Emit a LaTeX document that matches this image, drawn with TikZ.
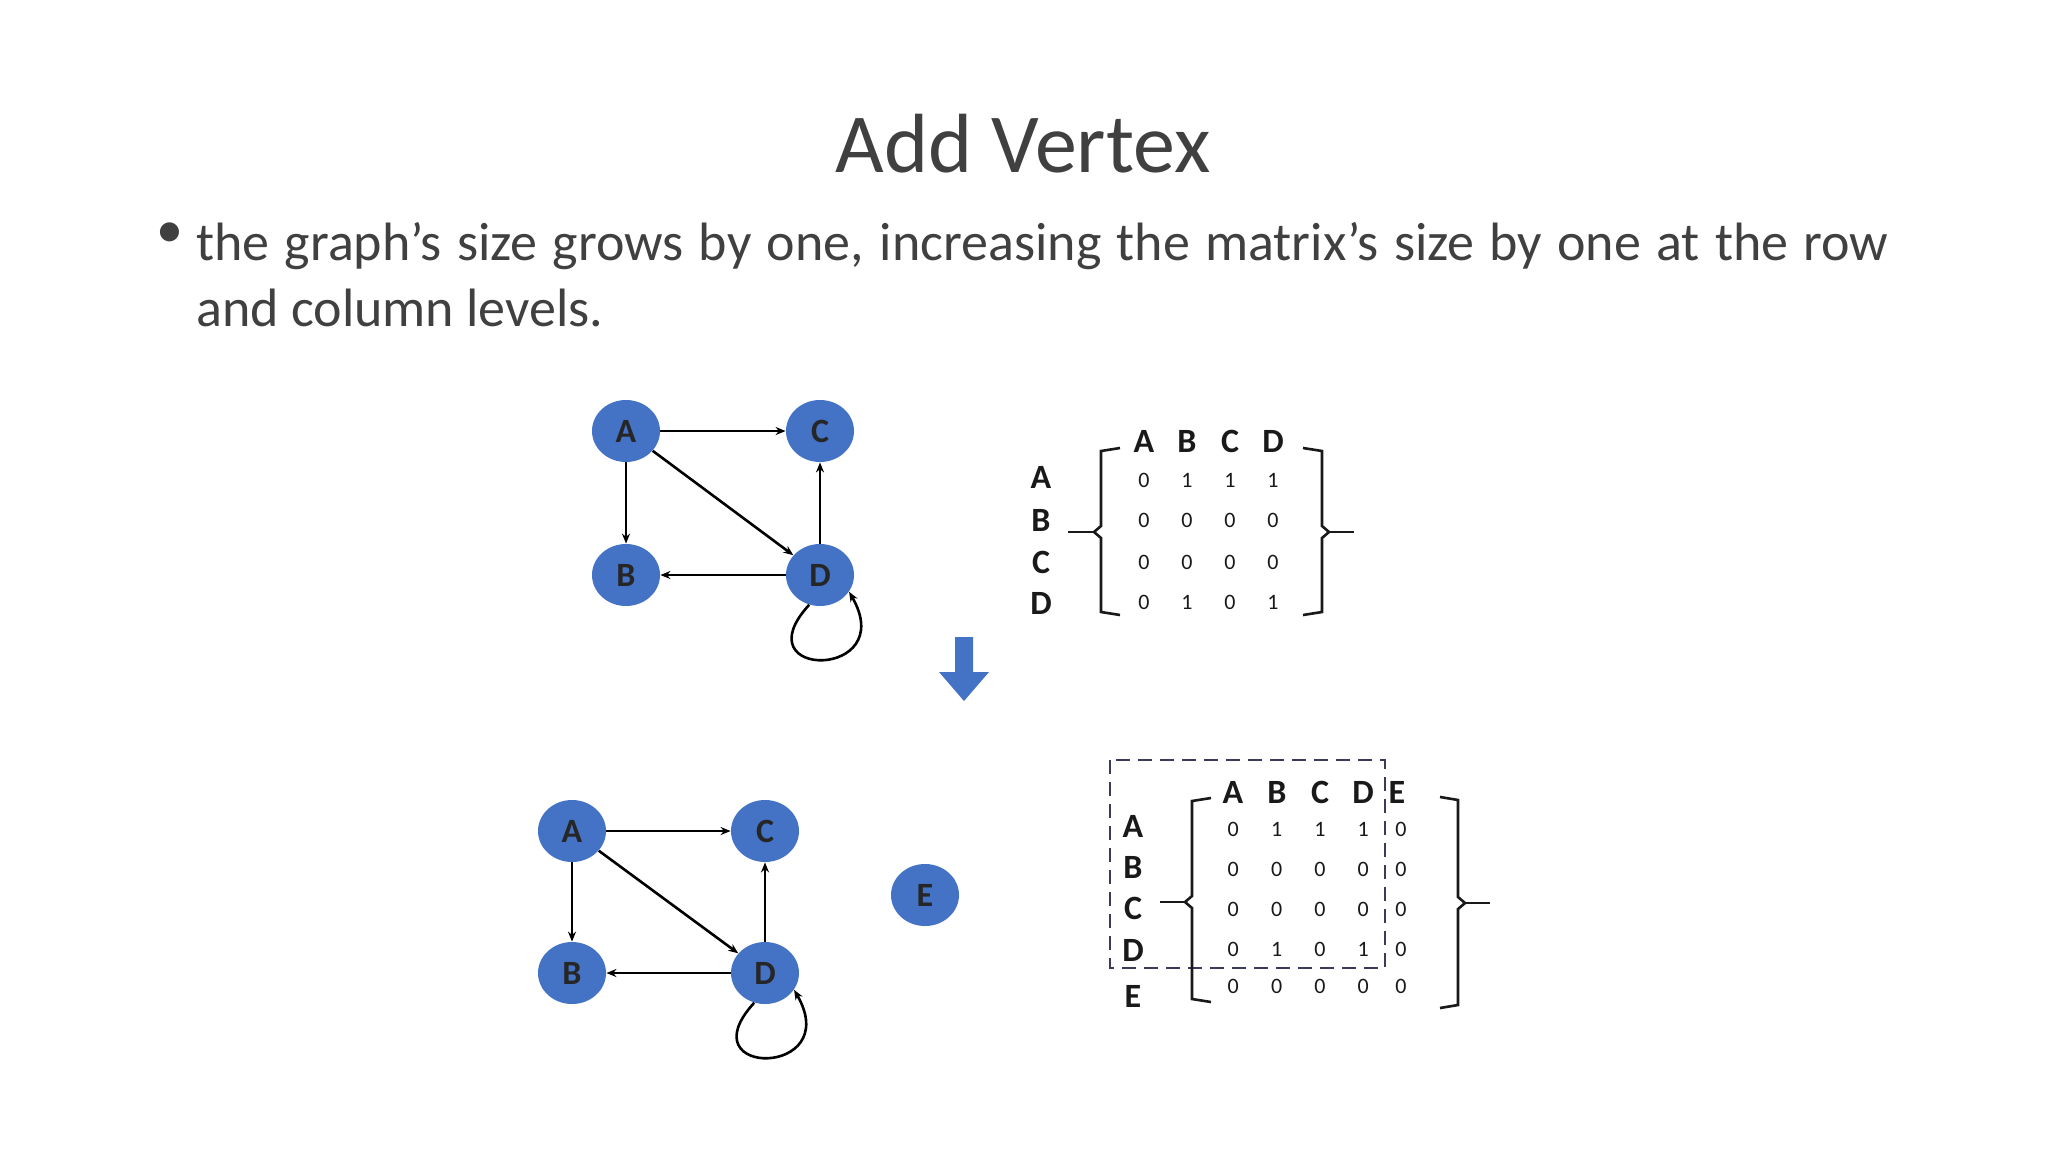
\documentclass[tikz,border=0pt]{standalone}
\usepackage{fontspec}
\setmainfont{Carlito}
\usetikzlibrary{arrows.meta,shapes.geometric}
\definecolor{txt}{HTML}{404040}
\definecolor{vfill}{HTML}{4472C4}
\definecolor{dashcol}{HTML}{3A3A5A}
\tikzset{
  vert/.style={ellipse, fill=vfill, minimum width=34pt, minimum height=31pt, inner sep=0pt, font=\bfseries\fontsize{17}{17}\selectfont, text=black!85},
  edge/.style={-{Stealth[length=5pt,width=4pt]}, line width=1.3pt},
  lab/.style={font=\bfseries\fontsize{17}{17}\selectfont, text=black!90},
  num/.style={font=\fontsize{11}{11}\selectfont, text=black!90},
  brk/.style={line width=1.3pt, black!90}
}
\begin{document}
\begin{tikzpicture}[x=0.5pt,y=-0.5pt]
\useasboundingbox (0,0) rectangle (2048,1152);
\fill[white] (0,0) rectangle (2048,1152);
\node[text=txt, font=\fontsize{42}{42}\selectfont] (title) at (1023,144) {Add Vertex};
\node[text=txt, font=\fontsize{27}{33}\selectfont, anchor=north west, text width=846pt, align=justify, inner sep=0pt] (bul) at (196,222) {the graph's size grows by one, increasing the matrix's size by one at the row and column levels.};
\node[text=txt, font=\fontsize{27}{27}\selectfont, anchor=north west, inner sep=0pt] (dot) at (156,222) {•};

% graph 1
\node[vert] (A1) at (626,431) {A};
\node[vert] (C1) at (820,431) {C};
\node[vert] (B1) at (626,575) {B};
\node[vert] (D1) at (820,575) {D};
\draw[edge] (A1) -- (C1);
\draw[edge] (A1) -- (B1);
\draw[edge] (A1) -- (D1);
\draw[edge] (D1) -- (C1);
\draw[edge] (D1) -- (B1);
\draw[edge] (D1.250) .. controls (740,680) and (900,680) .. (D1.-30);

% arrow
\fill[vfill] (955,637) -- (973,637) -- (973,672) -- (989,672) -- (964,701) -- (939,672) -- (955,672) -- cycle;

% matrix 1
\foreach \l/\y in {A/477,B/520,C/562,D/603} \node[lab] (r1\l) at (1041,\y) {\l};
\foreach \l/\x in {A/1144,B/1187,C/1230,D/1273} \node[lab] (c1\l) at (\x,441) {\l};
\foreach \r/\y/\vals in {a/480/{0,1,1,1},b/520/{0,0,0,0},c/562/{0,0,0,0},d/602/{0,1,0,1}}{
  \foreach \v [count=\i] in \vals { \node[num] (m1\r\i) at (1101+43*\i,\y) {\v}; }
}
\draw[brk] (1120,448) -- (1101,451) -- (1101,526) -- (1094,532) -- (1101,538) -- (1101,612) -- (1120,615);
\draw[brk] (1068,532) -- (1094,532);
\draw[brk] (1303,448) -- (1322,451) -- (1322,526) -- (1329,532) -- (1322,538) -- (1322,612) -- (1303,615);
\draw[brk] (1329,532) -- (1354,532);

% graph 2
\node[vert] (A2) at (572,831) {A};
\node[vert] (C2) at (765,831) {C};
\node[vert] (B2) at (572,973) {B};
\node[vert] (D2) at (765,973) {D};
\node[vert] (E2) at (925,895) {E};
\draw[edge] (A2) -- (C2);
\draw[edge] (A2) -- (B2);
\draw[edge] (A2) -- (D2);
\draw[edge] (D2) -- (C2);
\draw[edge] (D2) -- (B2);
\draw[edge] (D2.250) .. controls (685,1078) and (845,1078) .. (D2.-30);

% matrix 2
\draw[draw=dashcol, line width=1.3pt, dash pattern=on 7pt off 4pt] (1110,760) rectangle (1385,968);
\foreach \l/\y in {A/826,B/867,C/908,D/950,E/996} \node[lab] (r2\l) at (1133,\y) {\l};
\foreach \l/\x in {A/1233,B/1277,C/1320,D/1363,E/1397} \node[lab] (c2\l) at (\x,792) {\l};
\foreach \r/\y/\vals in {a/829/{0,1,1,1,0},b/869/{0,0,0,0,0},c/909/{0,0,0,0,0},d/949/{0,1,0,1,0},e/986/{0,0,0,0,0}}{
  \foreach \v [count=\i] in \vals { \node[num] (m2\r\i) at ({\i<5 ? 1190+43.3*\i : 1401},\y) {\v}; }
}
\draw[brk] (1211,798) -- (1192,801) -- (1192,896) -- (1185,902) -- (1192,908) -- (1192,999) -- (1211,1002);
\draw[brk] (1160,902) -- (1185,902);
\draw[brk] (1440,797) -- (1458,800) -- (1458,897) -- (1465,903) -- (1458,909) -- (1458,1005) -- (1440,1008);
\draw[brk] (1465,903) -- (1490,903);
\end{tikzpicture}
\end{document}
